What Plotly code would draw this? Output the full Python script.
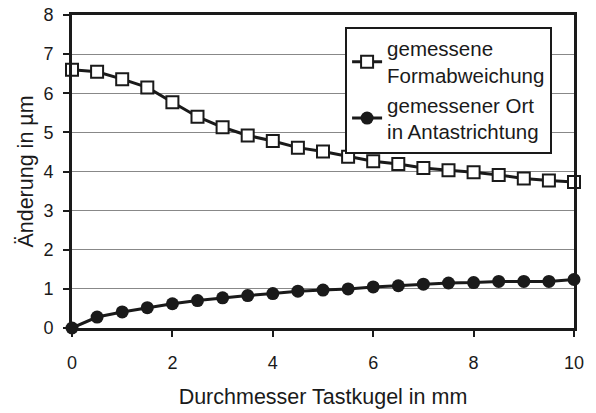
import plotly.graph_objects as go

x_mm = [0, 0.5, 1, 1.5, 2, 2.5, 3, 3.5, 4, 4.5, 5, 5.5, 6, 6.5, 7, 7.5, 8, 8.5, 9, 9.5, 10]
form = [6.60, 6.55, 6.36, 6.15, 5.77, 5.40, 5.13, 4.92, 4.78, 4.61, 4.51, 4.38, 4.26, 4.19, 4.09, 4.03, 3.98, 3.91, 3.82, 3.77, 3.73]
ort = [0.0, 0.28, 0.41, 0.52, 0.62, 0.70, 0.77, 0.83, 0.88, 0.94, 0.97, 1.00, 1.05, 1.08, 1.12, 1.15, 1.16, 1.19, 1.19, 1.19, 1.24]
name_form = "gemessene<br>Formabweichung"
name_ort = "gemessener Ort<br>in Antastrichtung"
x_ticks = [0, 2, 4, 6, 8, 10]
y_ticks = [0, 1, 2, 3, 4, 5, 6, 7, 8]

fig = go.Figure()
fig.add_trace(go.Scatter(x=x_mm, y=form, name=name_form, mode="lines+markers",
                         line=dict(color="#1a1a1a", width=3),
                         marker=dict(symbol="square", size=12, color="white",
                                     line=dict(color="#1a1a1a", width=2)),
                         cliponaxis=False))
fig.add_trace(go.Scatter(x=x_mm, y=ort, name=name_ort, mode="lines+markers",
                         line=dict(color="#1a1a1a", width=3),
                         marker=dict(symbol="circle", size=13, color="#1a1a1a"),
                         cliponaxis=False))

font = "Liberation Sans, Arial, sans-serif"
fig.update_layout(
    width=596, height=413,
    margin=dict(l=72, r=22, t=15, b=85, autoexpand=False),
    paper_bgcolor="white", plot_bgcolor="white",
    font=dict(family=font, size=18, color="#1a1a1a"),
    showlegend=True,
    legend=dict(x=0.544, y=0.963, xanchor="left", yanchor="top",
                bgcolor="white", bordercolor="#1a1a1a", borderwidth=2,
                font=dict(size=20.5), itemwidth=30, tracegroupgap=0),
    xaxis=dict(range=[0, 10], tickvals=x_ticks, showgrid=False, zeroline=False,
               showline=True, linecolor="#1a1a1a", linewidth=3, mirror=True,
               ticks="outside", ticklen=6, tickwidth=2, tickcolor="#1a1a1a",
               automargin=False, ticklabelstandoff=10, ticklabeloverflow="allow",
               title=dict(text="Durchmesser Tastkugel in mm", font=dict(size=21.5), standoff=18),
               tickfont=dict(size=18)),
    yaxis=dict(range=[0, 8], tickvals=y_ticks, showgrid=True, gridcolor="#888888", gridwidth=1,
               zeroline=False, showline=True, linecolor="#1a1a1a", linewidth=3, mirror=True,
               ticks="outside", ticklen=6, tickwidth=2, tickcolor="#1a1a1a",
               automargin=False, ticklabelstandoff=6, ticklabeloverflow="allow",
               title=dict(text="Änderung in µm", font=dict(size=21.5), standoff=4),
               tickfont=dict(size=18)),
)
fig.write_html("out.html", config={"displayModeBar": False},
               post_script="document.body.style.margin='0';")
